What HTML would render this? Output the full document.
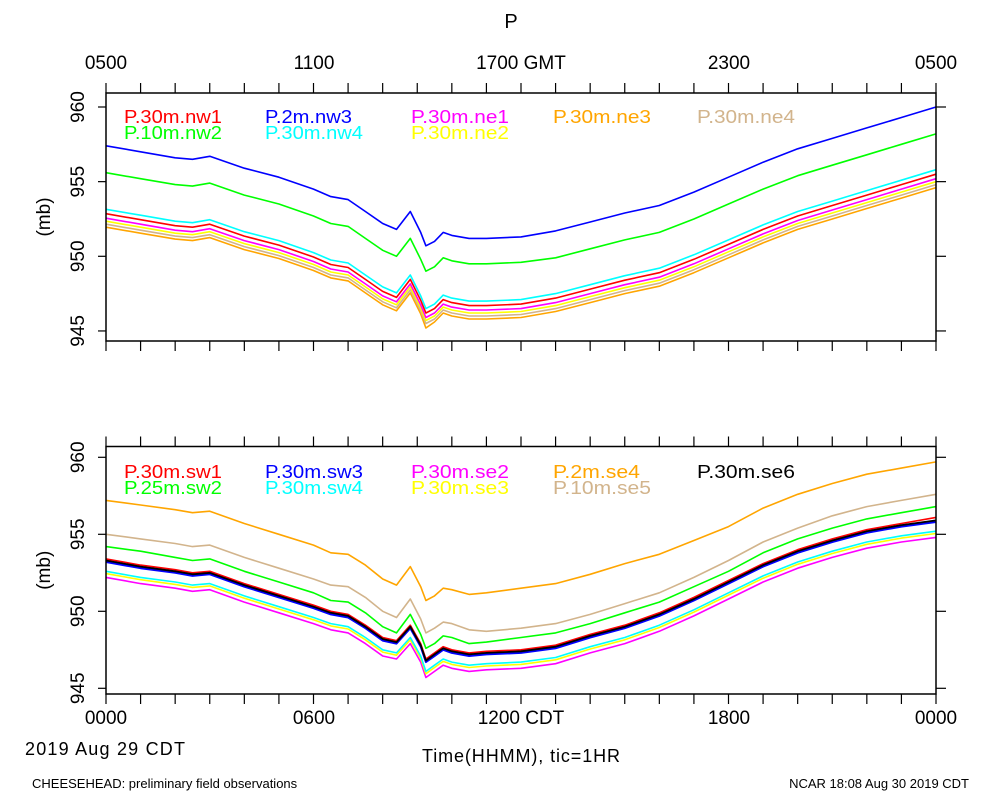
<!DOCTYPE html>
<html><head><meta charset="utf-8"><style>
body{margin:0;background:#fff}
svg{display:block;font-family:"Liberation Sans",sans-serif}
</style></head><body>
<svg id="chart" width="1000" height="800" viewBox="0 0 1000 800">
<text x="511" y="28" font-size="20" text-anchor="middle">P</text>
<g id="topaxis" font-size="19" text-anchor="middle">
<text x="106" y="69">0500</text>
<text x="314" y="69">1100</text>
<text x="521" y="69">1700 GMT</text>
<text x="729" y="69">2300</text>
<text x="936" y="69">0500</text>
</g>
<g font-size="19" text-anchor="middle">
<text x="106" y="724">0000</text>
<text x="314" y="724">0600</text>
<text x="521" y="724">1200 CDT</text>
<text x="729" y="724">1800</text>
<text x="936" y="724">0000</text>
</g>
<text x="25" y="755" font-size="18" textLength="160">2019 Aug 29 CDT</text>
<text x="422" y="762" font-size="18" textLength="198">Time(HHMM), tic=1HR</text>
<text x="32" y="788" font-size="13">CHEESEHEAD: preliminary field observations</text>
<text x="969" y="788" font-size="13" text-anchor="end">NCAR 18:08 Aug 30 2019 CDT</text>
</svg>
<script>
const times=[0,1,2,2.5,3,4,5,6,6.5,7,7.5,8,8.4,8.8,9.1,9.25,9.5,9.75,10,10.5,11,12,13,14,15,16,17,18,19,20,21,22,23,24];
const yTicks=[945,950,955,960];
// top panel
const nw1=[952.85,952.45,952.05,951.95,952.15,951.35,950.75,949.95,949.45,949.25,948.45,947.65,947.25,948.45,947.05,946.2,946.5,947.1,946.9,946.7,946.7,946.8,947.2,947.8,948.4,948.9,949.8,950.8,951.8,952.7,953.4,954.1,954.8,955.5];
const nw3=[957.4,957.0,956.6,956.5,956.7,955.9,955.3,954.5,954.0,953.8,953.0,952.2,951.8,953.0,951.6,950.7,951.0,951.6,951.4,951.2,951.2,951.3,951.7,952.3,952.9,953.4,954.3,955.3,956.3,957.2,957.9,958.6,959.3,960.0];
const ne1=[952.55,952.15,951.75,951.65,951.85,951.05,950.45,949.65,949.15,948.95,948.15,947.35,946.95,948.15,946.75,945.9,946.2,946.8,946.6,946.4,946.4,946.5,946.9,947.5,948.1,948.6,949.5,950.5,951.5,952.4,953.1,953.8,954.5,955.2];
const ne3=[951.95,951.55,951.15,951.05,951.25,950.45,949.85,949.05,948.55,948.35,947.55,946.75,946.35,947.55,946.15,945.2,945.6,946.2,946.0,945.8,945.8,945.9,946.3,946.9,947.5,948.0,948.9,949.9,950.9,951.8,952.5,953.2,953.9,954.6];
const ne4=[952.15,951.75,951.35,951.25,951.45,950.65,950.05,949.25,948.75,948.55,947.75,946.95,946.55,947.75,946.35,945.5,945.8,946.4,946.2,946.0,946.0,946.1,946.5,947.1,947.7,948.2,949.1,950.1,951.1,952.0,952.7,953.4,954.1,954.8];
const nw2=[955.6,955.2,954.8,954.7,954.9,954.1,953.5,952.7,952.2,952.0,951.2,950.4,950.0,951.2,949.8,949.0,949.3,949.9,949.7,949.5,949.5,949.6,949.9,950.5,951.1,951.6,952.5,953.5,954.5,955.4,956.1,956.8,957.5,958.2];
const nw4=[953.15,952.75,952.35,952.25,952.45,951.65,951.05,950.25,949.75,949.55,948.75,947.95,947.55,948.75,947.35,946.5,946.8,947.4,947.2,947.0,947.0,947.1,947.5,948.1,948.7,949.2,950.1,951.1,952.1,953.0,953.7,954.4,955.1,955.8];
const ne2=[952.35,951.95,951.55,951.45,951.65,950.85,950.25,949.45,948.95,948.75,947.95,947.15,946.75,947.95,946.55,945.7,946.0,946.6,946.4,946.2,946.2,946.3,946.7,947.3,947.9,948.4,949.3,950.3,951.3,952.2,952.9,953.6,954.3,955.0];
// bottom panel
const sw1=[953.4,953.0,952.7,952.5,952.6,951.8,951.1,950.4,950.0,949.8,949.1,948.3,948.1,949.1,947.9,946.9,947.3,947.7,947.5,947.3,947.4,947.5,947.8,948.5,949.1,949.9,950.9,952.0,953.1,954.0,954.7,955.3,955.7,956.1];
const sw3=[953.2,952.8,952.5,952.3,952.4,951.6,950.9,950.2,949.8,949.6,948.9,948.1,947.9,948.9,947.7,946.7,947.1,947.5,947.3,947.1,947.2,947.3,947.6,948.3,948.9,949.7,950.7,951.8,952.9,953.8,954.5,955.1,955.5,955.8];
const se2=[952.2,951.8,951.5,951.3,951.4,950.6,949.9,949.2,948.8,948.6,947.9,947.1,946.9,947.9,946.7,945.7,946.1,946.5,946.3,946.1,946.2,946.3,946.6,947.3,947.9,948.7,949.7,950.8,951.9,952.8,953.5,954.1,954.5,954.8];
const se4=[957.2,956.9,956.6,956.4,956.5,955.7,955.0,954.3,953.8,953.7,953.0,952.1,951.7,952.9,951.6,950.7,951.0,951.5,951.4,951.1,951.2,951.5,951.8,952.4,953.1,953.7,954.6,955.5,956.7,957.6,958.3,958.9,959.3,959.7];
const se6=[953.3,952.9,952.6,952.4,952.5,951.7,951.0,950.3,949.9,949.7,949.0,948.2,948.0,949.0,947.8,946.8,947.2,947.6,947.4,947.2,947.3,947.4,947.7,948.4,949.0,949.8,950.8,951.9,953.0,953.9,954.6,955.2,955.6,955.9];
const sw2=[954.2,953.9,953.5,953.3,953.4,952.6,951.9,951.2,950.7,950.6,949.9,949.0,948.6,949.8,948.5,947.6,947.9,948.4,948.3,947.9,948.0,948.3,948.6,949.2,949.9,950.6,951.6,952.6,953.8,954.7,955.4,956.0,956.4,956.8];
const sw4=[952.6,952.2,951.9,951.7,951.8,951.0,950.3,949.6,949.2,949.0,948.3,947.5,947.3,948.3,947.1,946.1,946.5,946.9,946.7,946.5,946.6,946.7,947.0,947.7,948.3,949.1,950.1,951.2,952.3,953.2,953.9,954.5,954.9,955.2];
const se3=[952.45,952.05,951.75,951.55,951.65,950.85,950.15,949.45,949.05,948.85,948.15,947.35,947.15,948.15,946.95,945.95,946.35,946.75,946.55,946.35,946.45,946.55,946.85,947.55,948.15,948.95,949.95,951.05,952.15,953.05,953.75,954.35,954.75,955.05];
const se5=[955.0,954.7,954.4,954.2,954.3,953.5,952.8,952.1,951.7,951.6,950.9,950.0,949.6,950.8,949.5,948.6,948.9,949.3,949.2,948.8,948.7,948.9,949.2,949.8,950.5,951.2,952.2,953.3,954.5,955.4,956.2,956.8,957.2,957.6];

const NS='http://www.w3.org/2000/svg';
const svg=document.getElementById('chart');
function mk(tag,attrs,parent){const e=document.createElementNS(NS,tag);for(const k in attrs)e.setAttribute(k,attrs[k]);(parent||svg).appendChild(e);return e;}
const X0=106,X1=936;
function xs(h){return X0+(X1-X0)*h/24;}

function panel(p){
  const g=mk('g',{});
  
  
  const ys=v=>p.y960+(960-v)*p.ppm;
  p.series.forEach(s=>{
    let d='';
    times.forEach((t,i)=>{d+=(i?'L':'M')+xs(t).toFixed(1)+','+ys(s.v[i]).toFixed(1);});
    const path=mk('path',{d:d,fill:'none',stroke:s.c,'stroke-width':s.w||1.6,'stroke-linejoin':'round'},g);
    
    
  });
  const fr=mk('rect',{x:X0,y:p.top,width:X1-X0,height:p.bot-p.top,fill:'none',stroke:'#000','stroke-width':1.5},g);
  
  
  for(let h=0;h<=24;h++){
    const x=xs(h);
    mk('line',{x1:x,x2:x,y1:p.top,y2:p.top-10,stroke:'#000','stroke-width':1.2},g);
    mk('line',{x1:x,x2:x,y1:p.bot,y2:p.bot+10,stroke:'#000','stroke-width':1.2},g);
  }
  yTicks.forEach(v=>{
    const y=ys(v);
    mk('line',{x1:X0,x2:X0-8,y1:y,y2:y,stroke:'#000','stroke-width':1.2},g);
    mk('line',{x1:X1,x2:X1+10,y1:y,y2:y,stroke:'#000','stroke-width':1.2},g);
    const t=mk('text',{x:0,y:0,'font-size':19,'text-anchor':'middle',transform:'translate(84,'+y+') rotate(-90)'},g);
    t.textContent=v;
    
    
  });
  const yt=mk('text',{x:0,y:0,'font-size':19,'text-anchor':'middle',transform:'translate(50,'+((p.top+p.bot)/2)+') rotate(-90)'},g);
  yt.textContent='(mb)';
  
  
  p.series.forEach(s=>{
    const t=mk('text',{x:s.lx,y:s.ly,'font-size':18,fill:s.c,textLength:(s.label.length*10.9).toFixed(0),lengthAdjust:'spacingAndGlyphs'},g);
    t.textContent=s.label;
    
    
  });
}
const R1=p=>p+23, R2=p=>p+39;
panel({name:'top-panel',top:93,bot:341,y960:107,ppm:14.93,series:[
 {n:'nw3',v:nw3,c:'#0000ff',label:'P.2m.nw3',lx:265,ly:R1(100)},
 {n:'nw2',v:nw2,c:'#00ff00',label:'P.10m.nw2',lx:124,ly:R2(100)},
 {n:'ne3',v:ne3,c:'#ffa500',label:'P.30m.ne3',lx:553,ly:R1(100)},
 {n:'ne4',v:ne4,c:'#d2b48c',label:'P.30m.ne4',lx:697,ly:R1(100)},
 {n:'ne2',v:ne2,c:'#ffff00',label:'P.30m.ne2',lx:411,ly:R2(100)},
 {n:'ne1',v:ne1,c:'#ff00ff',label:'P.30m.ne1',lx:411,ly:R1(100)},
 {n:'nw1',v:nw1,c:'#ff0000',label:'P.30m.nw1',lx:124,ly:R1(100)},
 {n:'nw4',v:nw4,c:'#00ffff',label:'P.30m.nw4',lx:265,ly:R2(100)}
]});
panel({name:'bottom-panel',top:446.5,bot:694,y960:457.3,ppm:15.4,series:[
 {n:'se4',v:se4,c:'#ffa500',label:'P.2m.se4',lx:553,ly:R1(455)},
 {n:'se5',v:se5,c:'#d2b48c',label:'P.10m.se5',lx:553,ly:R2(455)},
 {n:'sw2',v:sw2,c:'#00ff00',label:'P.25m.sw2',lx:124,ly:R2(455)},
 {n:'se2',v:se2,c:'#ff00ff',label:'P.30m.se2',lx:411,ly:R1(455)},
 {n:'se3',v:se3,c:'#ffff00',label:'P.30m.se3',lx:411,ly:R2(455)},
 {n:'sw4',v:sw4,c:'#00ffff',label:'P.30m.sw4',lx:265,ly:R2(455)},
 {n:'sw1',v:sw1,c:'#ff0000',label:'P.30m.sw1',lx:124,ly:R1(455)},
 {n:'sw3',v:sw3,c:'#0000ff',label:'P.30m.sw3',lx:265,ly:R1(455),w:2},
 {n:'se6',v:se6,c:'#000000',label:'P.30m.se6',lx:697,ly:R1(455),w:1.8}
]});
</script>
</body></html>
